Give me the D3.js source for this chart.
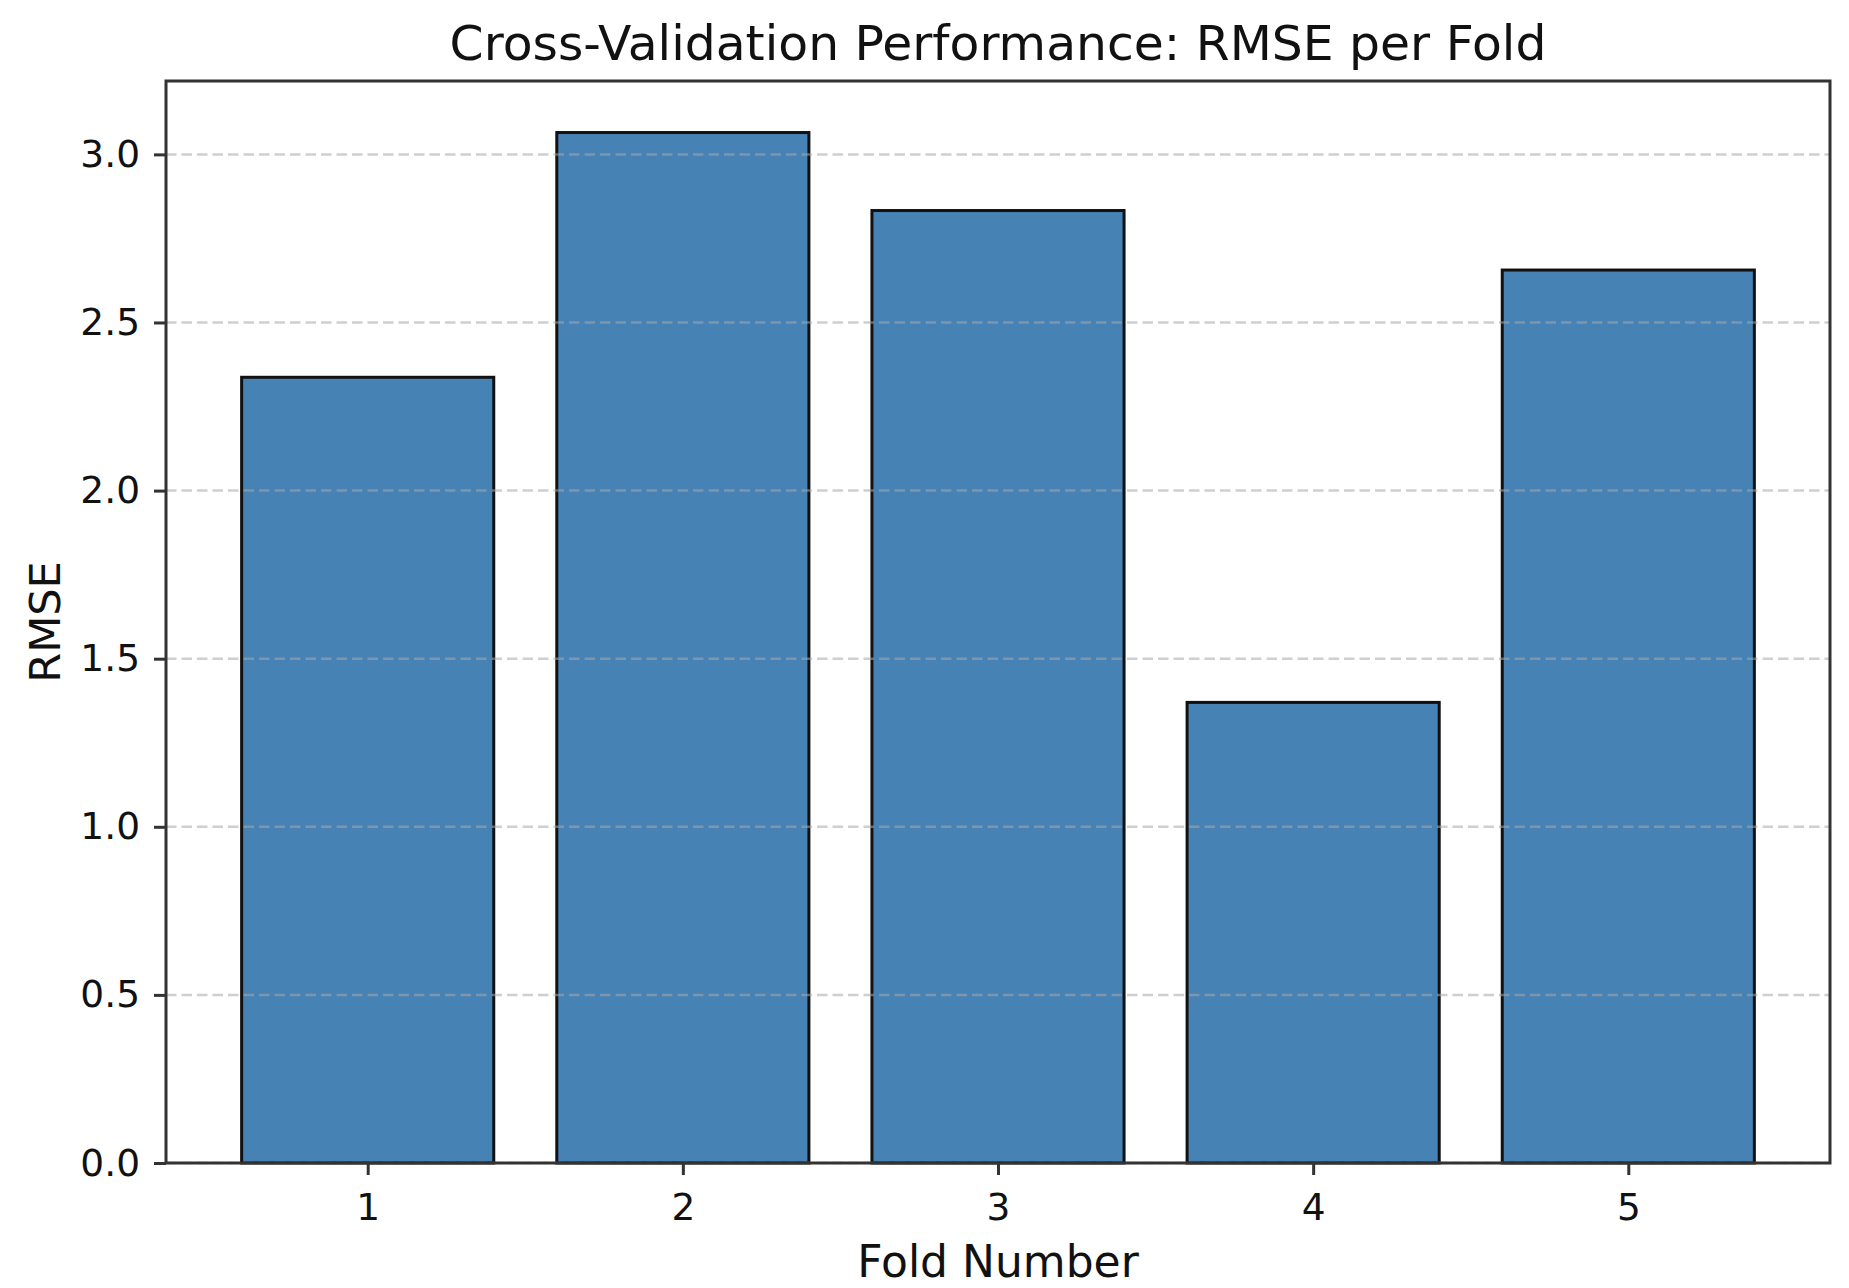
<!DOCTYPE html>
<html>
<head>
<meta charset="utf-8">
<script src="https://cdn.jsdelivr.net/npm/d3@7"></script>
<style>
    body { margin: 0; background: #fff; }
    .chart-container { width: 1849px; height: 1288px; }
    text { font-family: "DejaVu Sans", sans-serif; fill: #111; }
    .axis path, .axis line { stroke: #333; stroke-width: 3; }
    .grid line { stroke: #a8a8a8; stroke-opacity: 0.55; stroke-width: 2.5; stroke-dasharray: 10.5 5; }
    .bar { fill: #4682b4; stroke: #111; stroke-width: 3; }
</style>
</head>
<body>
<div class="chart-container"></div>
<script>
// values
var folds = [1, 2, 3, 4, 5]
var rmse = [2.337, 3.065, 2.833, 1.370, 2.656]
var yTicks = [0, 0.5, 1.0, 1.5, 2.0, 2.5, 3.0]

var titleText = "Cross-Validation Performance: RMSE per Fold"
var xLabelText = "Fold Number"
var yLabelText = "RMSE"

!function(){

    var width = 1849, height = 1288
    var margin = { top: 81, left: 166, bottom: 125, right: 19 }
    var chartWidth = width - (margin.left + margin.right)
    var chartHeight = height - (margin.top + margin.bottom)

    var data = folds.map(function(f, i) { return { fold: f, rmse: rmse[i] } })

    var svg = d3.select(".chart-container").append("svg")
        .attr("width", width).attr("height", height)

    var chartLayer = svg.append("g")
        .attr("transform", "translate(" + [margin.left, margin.top] + ")")

    // matplotlib style: bars 0.8 wide, 5% margins in x, 5% headroom in y
    var barW = 0.8
    var xMin = folds[0] - barW / 2, xMax = folds[folds.length - 1] + barW / 2
    var xPad = (xMax - xMin) * 0.05
    var x = d3.scaleLinear()
        .domain([xMin - xPad, xMax + xPad])
        .range([0, chartWidth])
    var y = d3.scaleLinear()
        .domain([0, d3.max(rmse) * 1.05])
        .range([chartHeight, 0])

    // bars
    chartLayer.selectAll(".bar")
        .data(data)
        .enter().append("rect")
        .attr("class", "bar")
        .attr("x", function(d) { return x(d.fold - barW / 2) })
        .attr("width", function(d) { return x(d.fold + barW / 2) - x(d.fold - barW / 2) })
        .attr("y", function(d) { return y(d.rmse) })
        .attr("height", function(d) { return y(0) - y(d.rmse) })

    // grid on top of the bars, like matplotlib's default
    chartLayer.append("g").attr("class", "grid")
        .selectAll("line")
        .data(yTicks)
        .enter().append("line")
        .attr("x1", 0).attr("x2", chartWidth)
        .attr("y1", function(d) { return y(d) }).attr("y2", function(d) { return y(d) })

    // frame
    chartLayer.append("rect")
        .attr("width", chartWidth).attr("height", chartHeight)
        .attr("fill", "none").attr("stroke", "#333").attr("stroke-width", 3)

    var yAxis = d3.axisLeft(y)
        .tickValues(yTicks)
        .tickFormat(d3.format(".1f"))
        .tickSizeInner(12).tickSizeOuter(0).tickPadding(14)

    var yAxisElm = chartLayer.append("g").attr("class", "axis y").call(yAxis)
    yAxisElm.select(".domain").remove()
    yAxisElm.selectAll("text").style("font-size", "37.5px")

    var xAxis = d3.axisBottom(x)
        .tickValues(folds)
        .tickFormat(d3.format("d"))
        .tickSizeInner(12).tickSizeOuter(0).tickPadding(18)

    var xAxisElm = chartLayer.append("g").attr("class", "axis x")
        .attr("transform", "translate(0," + chartHeight + ")")
        .call(xAxis)
    xAxisElm.select(".domain").remove()
    xAxisElm.selectAll("text").style("font-size", "37.5px")

    // title and axis labels
    svg.append("text")
        .attr("x", margin.left + chartWidth / 2).attr("y", 60)
        .attr("text-anchor", "middle")
        .style("font-size", "48.8px")
        .text(titleText)

    svg.append("text")
        .attr("x", margin.left + chartWidth / 2).attr("y", 1277)
        .attr("text-anchor", "middle")
        .style("font-size", "44px")
        .text(xLabelText)

    svg.append("text")
        .attr("transform", "translate(" + [60, margin.top + chartHeight / 2] + ") rotate(-90)")
        .attr("text-anchor", "middle")
        .style("font-size", "43px")
        .text(yLabelText)

}();
</script>
</body>
</html>
